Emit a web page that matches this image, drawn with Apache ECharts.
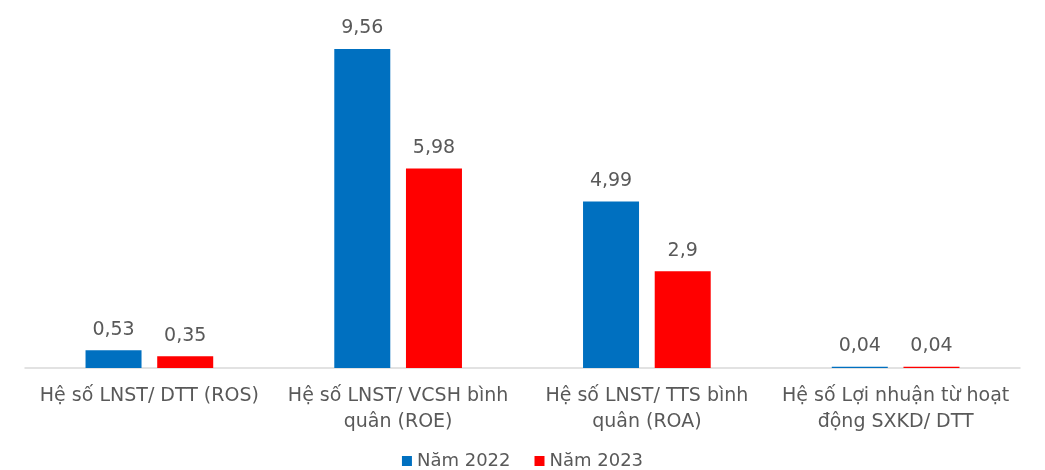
<!DOCTYPE html>
<html>
<head>
<meta charset="utf-8">
<script src="https://cdn.jsdelivr.net/npm/echarts@6/dist/echarts.min.js"></script>
<style>
html,body{margin:0;padding:0;background:#fff;}
#chart{width:1045px;height:470px;}
</style>
</head>
<body>
<div id="chart"></div>
<script>
// Profitability ratios, 2022 vs 2023
const categories = [
  'Hệ số LNST/ DTT (ROS)',
  'Hệ số LNST/ VCSH bình\nquân (ROE)',
  'Hệ số LNST/ TTS bình\nquân (ROA)',
  'Hệ số Lợi nhuận từ hoạt\nđộng SXKD/ DTT'
];
const seriesNames = ['Năm 2022', 'Năm 2023'];
const values2022 = [0.53, 9.56, 4.99, 0.04];
const values2023 = [0.35, 5.98, 2.9, 0.04];
const colors = ['#0070C0', '#FF0000'];

const fontFamily = '"DejaVu Sans", "Noto Sans", sans-serif';
const textColor = '#595959';

const fmt = v => String(v.value).replace('.', ',');

const chart = echarts.init(document.getElementById('chart'));
chart.setOption({
  animation: false,
  textStyle: { fontFamily: fontFamily },
  grid: { left: 25, right: 25, top: 34.3, bottom: 102, containLabel: false },
  legend: {
    data: seriesNames,
    top: 452,
    left: 'center',
    padding: 0,
    itemWidth: 10,
    itemHeight: 10,
    itemGap: 24,
    icon: 'rect',
    textStyle: { color: textColor, fontSize: 18, fontFamily: fontFamily }
  },
  xAxis: {
    type: 'category',
    data: categories,
    axisLine: { show: true, lineStyle: { color: '#D9D9D9', width: 1.5 } },
    axisTick: { show: false },
    axisLabel: {
      color: textColor,
      fontSize: 19,
      lineHeight: 26,
      margin: 15,
      interval: 0,
      fontFamily: fontFamily
    }
  },
  yAxis: {
    type: 'value',
    min: 0,
    max: 10,
    show: false,
    splitLine: { show: false }
  },
  series: [
    {
      name: seriesNames[0],
      type: 'bar',
      data: values2022,
      barWidth: 56,
      barGap: '28%',
      itemStyle: { color: colors[0] },
      label: { show: true, position: 'top', distance: 11, color: textColor, fontSize: 19, formatter: fmt }
    },
    {
      name: seriesNames[1],
      type: 'bar',
      data: values2023,
      barWidth: 56,
      itemStyle: { color: colors[1] },
      label: { show: true, position: 'top', distance: 11, color: textColor, fontSize: 19, formatter: fmt }
    }
  ]
});
</script>
</body>
</html>
